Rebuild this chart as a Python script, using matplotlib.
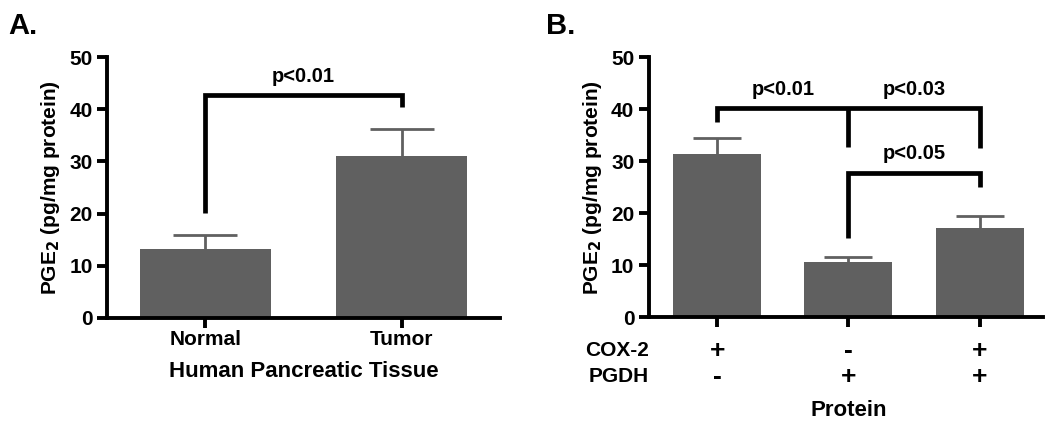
import matplotlib
matplotlib.use("Agg")
import matplotlib.pyplot as plt

plt.rcParams['font.family'] = ['Liberation Sans', 'DejaVu Sans']
plt.rcParams['font.weight'] = 'bold'

# Panel A data
tissue = ['Normal', 'Tumor']
tissue_mean = [13.2, 31.1]
tissue_sem = [2.7, 5.2]

# Panel B data
cox2 = ['+', '-', '+']
pgdh = ['-', '+', '+']
protein_mean = [31.3, 10.6, 17.1]
protein_sem = [3.1, 0.9, 2.3]

BAR = '#606060'


def style_axes(ax):
    for s in ['top', 'right']:
        ax.spines[s].set_visible(False)
    for s in ['left', 'bottom']:
        ax.spines[s].set_linewidth(2.8)
    ax.tick_params(width=2.8, length=7, labelsize=15, direction='out')
    ax.tick_params(axis='x', pad=2)
    ax.set_ylim(0, 50)
    ax.set_yticks([0, 10, 20, 30, 40, 50])
    for lab in ax.get_yticklabels():
        lab.set_fontweight('bold')
    ax.set_ylabel('PGE$_\\mathbf{2}$ (pg/mg protein)', fontsize=15, fontweight='bold', labelpad=5)


def up_errors(ax, x, means, errs, capsize):
    # only the upper half of the error bar, like Prism draws it
    _, caps, _ = ax.errorbar(x, means, yerr=[[0] * len(means), errs], fmt='none',
                             ecolor=BAR, elinewidth=2, capsize=capsize, capthick=2)
    caps[0].set_visible(False)


def bracket(ax, x1, x2, y, low1, low2, lw=3.4):
    ax.plot([x1, x1, x2, x2], [low1, y, y, low2], color='black', lw=lw,
            solid_joinstyle='miter', solid_capstyle='butt', clip_on=False)


fig = plt.figure(figsize=(10.5, 4.32), dpi=100)

# ---- Panel A
axA = fig.add_axes([0.102, 0.264, 0.374, 0.604])
xa = list(range(len(tissue)))
axA.bar(xa, tissue_mean, width=0.665, color=BAR)
up_errors(axA, xa, tissue_mean, tissue_sem, 23)
axA.set_xlim(-0.5, 1.5)
style_axes(axA)
axA.set_xticks(xa)
axA.set_xticklabels(tissue, fontsize=15, fontweight='bold')
axA.set_xlabel('Human Pancreatic Tissue', fontsize=16, fontweight='bold', labelpad=8)
bracket(axA, 0, 1, 42.7, 20.1, 40.4)
axA.text(0.5, 44.4, 'p<0.01', ha='center', va='bottom', fontsize=14.5, fontweight='bold')

# ---- Panel B
axB = fig.add_axes([0.618, 0.266, 0.375, 0.602])
xb = list(range(len(protein_mean)))
axB.bar(xb, protein_mean, width=0.67, color=BAR)
up_errors(axB, xb, protein_mean, protein_sem, 17)
axB.set_xlim(-0.52, 2.48)
style_axes(axB)
axB.set_xticks(xb)
axB.set_xticklabels([''] * len(protein_mean))

tr = axB.get_xaxis_transform()
axB.text(-0.52, -0.13, 'COX-2', transform=tr, ha='right', va='center', fontsize=15, fontweight='bold')
axB.text(-0.52, -0.23, 'PGDH', transform=tr, ha='right', va='center', fontsize=15, fontweight='bold')
for i in xb:
    axB.text(i, -0.13, cox2[i], transform=tr, ha='center', va='center', fontsize=19, fontweight='bold')
    axB.text(i, -0.23, pgdh[i], transform=tr, ha='center', va='center', fontsize=19, fontweight='bold')
axB.text(1, -0.36, 'Protein', transform=tr, ha='center', va='center', fontsize=16, fontweight='bold')

bracket(axB, 0, 2, 40.2, 37.5, 32.5)
axB.plot([1, 1], [40.2, 32.7], color='black', lw=3.4, solid_capstyle='butt')
bracket(axB, 1, 2, 27.7, 15.2, 25.0)
axB.text(0.5, 42.0, 'p<0.01', ha='center', va='bottom', fontsize=14.5, fontweight='bold')
axB.text(1.5, 42.0, 'p<0.03', ha='center', va='bottom', fontsize=14.5, fontweight='bold')
axB.text(1.5, 29.6, 'p<0.05', ha='center', va='bottom', fontsize=14.5, fontweight='bold')

fig.text(0.008, 0.94, 'A.', fontsize=21, fontweight='bold', va='center')
fig.text(0.52, 0.94, 'B.', fontsize=21, fontweight='bold', va='center')

fig.savefig('out.png', dpi=100)
